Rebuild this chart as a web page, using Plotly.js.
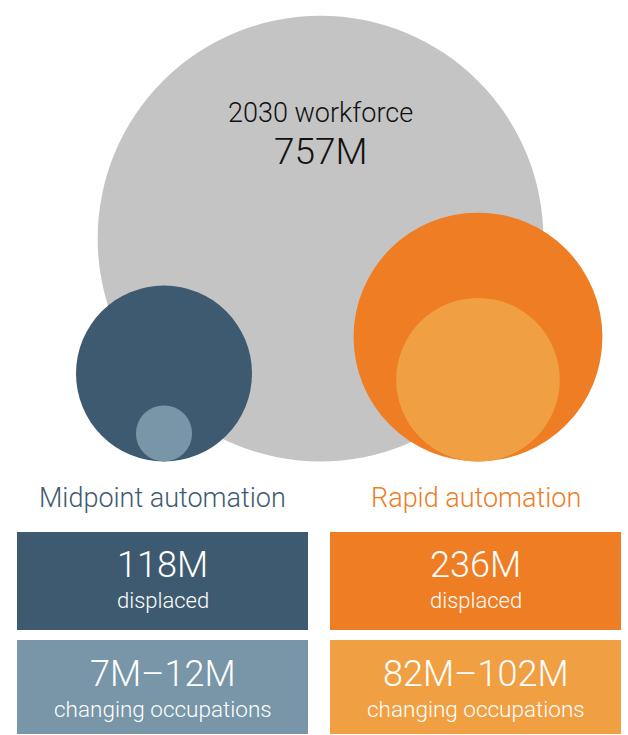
<!DOCTYPE html>
<html>
<head>
<meta charset="utf-8">
<script src="https://cdn.plot.ly/plotly-3.0.1.min.js"></script>
<style>
  body { margin: 0; background: #fff; }
  #chart { width: 628px; height: 735px; }
</style>
</head>
<body>
<div id="chart"></div>
<script>
// values (millions of workers)
const workforce = 757;
const workforceLabel = "2030 workforce";
const scenarios = ["Midpoint automation", "Rapid automation"];
const displaced = [118, 236];
const changingLow = [7, 82];
const changingHigh = [12, 102];

const darkColors = ["#3e5a70", "#ee7d23"];
const lightColors = ["#7896a8", "#f0a043"];
const grey = "#c4c4c4";

// layout constants (axis units == pixels)
const W = 628, H = 735;
const k = 8.1;            // radius = k * sqrt(value)
const baseY = 461.5;      // all circles sit on this line
const bigX = 320.5;
const scenX = [164, 478];
const boxX = [[17, 308], [330, 621]];
const rowY = [[532, 630], [640, 734]];
const font = "Roboto, 'Open Sans', sans-serif";

function circle(cx, v, color) {
  let r = k * Math.sqrt(v);
  return {
    type: "circle", xref: "x", yref: "y",
    x0: cx - r, x1: cx + r, y0: baseY - 2 * r, y1: baseY,
    fillcolor: color, line: { width: 0 }, layer: "above"
  };
}

let shapes = [circle(bigX, workforce, grey)];
let annotations = [];

scenarios.forEach((name, i) => {
  shapes.push(circle(scenX[i], displaced[i], darkColors[i]));
  shapes.push(circle(scenX[i], changingHigh[i], lightColors[i]));

  // boxes
  shapes.push({
    type: "rect", xref: "x", yref: "y",
    x0: boxX[i][0], x1: boxX[i][1], y0: rowY[0][0], y1: rowY[0][1],
    fillcolor: darkColors[i], line: { width: 0 }
  });
  shapes.push({
    type: "rect", xref: "x", yref: "y",
    x0: boxX[i][0], x1: boxX[i][1], y0: rowY[1][0], y1: rowY[1][1],
    fillcolor: lightColors[i], line: { width: 0 }
  });

  let cx = (boxX[i][0] + boxX[i][1]) / 2;
  annotations.push({
    x: cx, y: 498, text: name, showarrow: false,
    font: { family: font, size: 27, weight: 300, color: darkColors[i] }
  });
  annotations.push({
    x: cx, y: 565, text: displaced[i] + "M", showarrow: false,
    font: { family: font, size: 36, weight: 300, color: "#fff" }
  });
  annotations.push({
    x: cx, y: 600, text: "displaced", showarrow: false,
    font: { family: font, size: 22, weight: 300, color: "#fff" }
  });
  annotations.push({
    x: cx, y: 674, text: changingLow[i] + "M–" + changingHigh[i] + "M", showarrow: false,
    font: { family: font, size: 36, weight: 300, color: "#fff" }
  });
  annotations.push({
    x: cx, y: 709, text: "changing occupations", showarrow: false,
    font: { family: font, size: 22.5, weight: 300, color: "#fff" }
  });
});

annotations.push({
  x: bigX, y: 113, text: workforceLabel, showarrow: false,
  font: { family: font, size: 27, weight: 300, color: "#111" }
});
annotations.push({
  x: bigX, y: 151, text: workforce + "M", showarrow: false,
  font: { family: font, size: 37, weight: 300, color: "#111" }
});

const layout = {
  width: W, height: H,
  margin: { l: 0, r: 0, t: 0, b: 0 },
  paper_bgcolor: "#fff", plot_bgcolor: "#fff",
  xaxis: { range: [0, W], visible: false, fixedrange: true },
  yaxis: { range: [H, 0], visible: false, fixedrange: true },
  showlegend: false,
  shapes: shapes,
  annotations: annotations
};

Plotly.newPlot("chart", [], layout, { displayModeBar: false, staticPlot: true });
</script>
</body>
</html>
